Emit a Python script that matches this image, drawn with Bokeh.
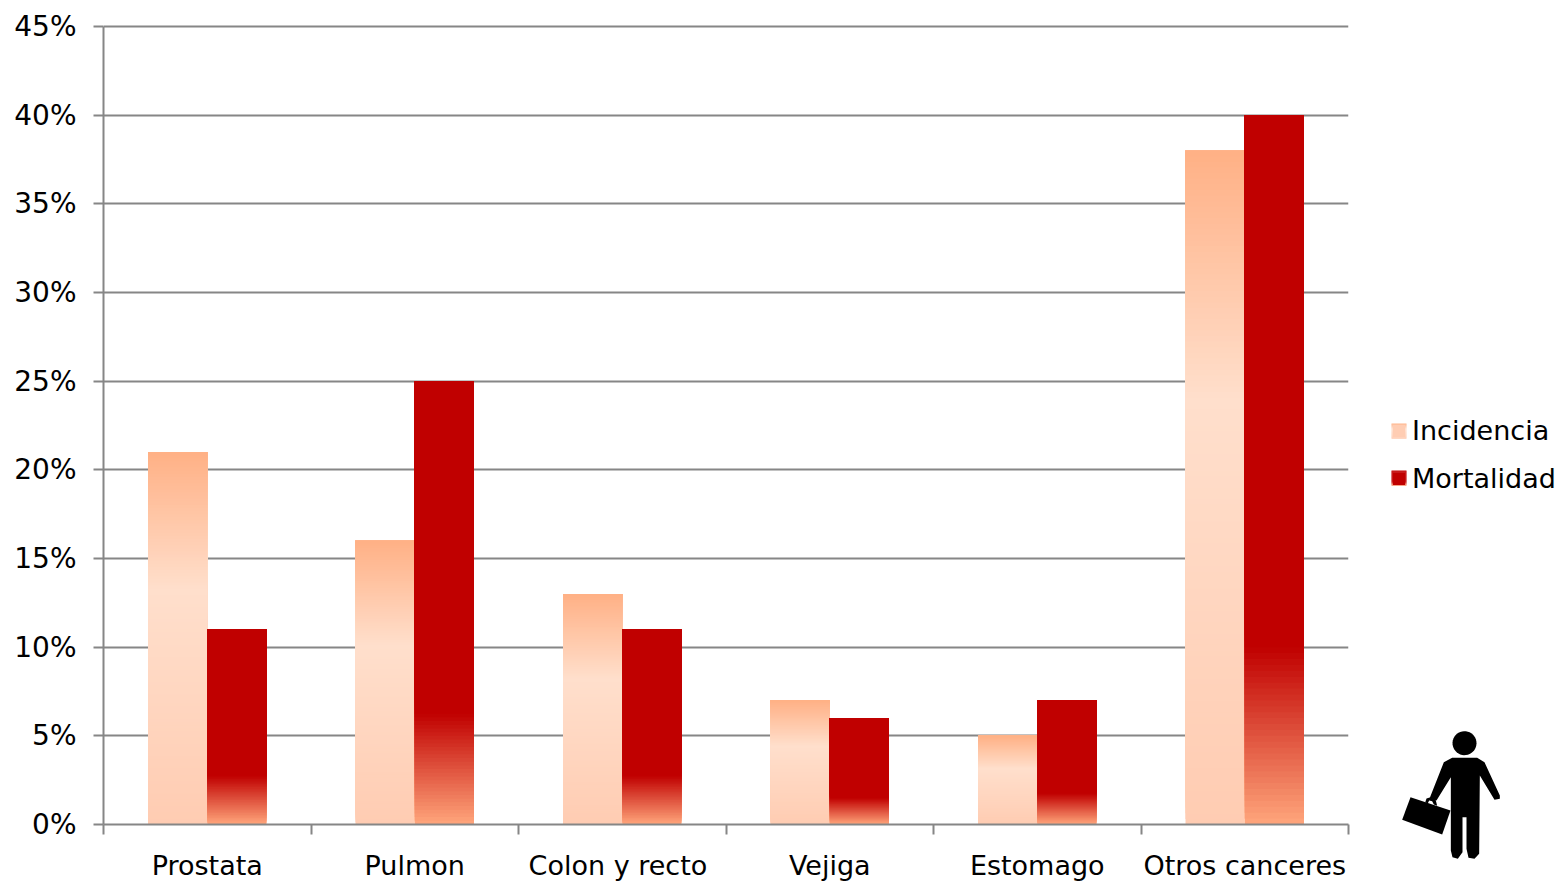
import numpy as np
from bokeh.plotting import figure
from bokeh.layouts import row, column
from bokeh.models import (ColumnDataSource, FixedTicker, Legend, LegendItem, Range1d)
from bokeh.embed import file_html
from bokeh.resources import INLINE

categories = ["Prostata", "Pulmon", "Colon y  recto", "Vejiga", "Estomago", "Otros canceres"]
incidencia = [21, 16, 13, 7, 5, 38]
mortalidad = [11, 25, 11, 6, 7, 40]
y_ticks = [0, 5, 10, 15, 20, 25, 30, 35, 40, 45]
series_names = ["Incidencia", "Mortalidad"]

FONT = "DejaVu Sans"
FS_X = "27px"
FS_Y = "28px"
GREY = "#868686"
BAR_W = 0.2855
N = 120

stops_inc = ([0.0, 0.63, 1.0], ["#FFCCB2", "#FFDFCC", "#FFB085"])
stops_mor = ([0.0, 0.25, 1.0], ["#FFA67C", "#C00000", "#C00000"])


def grad(stops, t):
    pos, cols = stops
    rgb = np.array([[int(c[i:i + 2], 16) for i in (1, 3, 5)] for c in cols], float)
    ch = [np.interp(t, pos, rgb[:, k]) for k in range(3)]
    return ["#%02x%02x%02x" % (int(round(r)), int(round(g)), int(round(b))) for r, g, b in zip(*ch)]


def slices(vals, offset, stops):
    L, R, B, T, C = [], [], [], [], []
    ts = np.arange(N) / N
    cols = grad(stops, (ts + 0.5 / N))
    for i, v in enumerate(vals):
        for t, c in zip(ts, cols):
            L.append(i + 0.5 + offset - BAR_W / 2)
            R.append(i + 0.5 + offset + BAR_W / 2)
            B.append(v * t)      # each slice reaches to the top; later ones paint over
            T.append(v)
            C.append(c)
    return ColumnDataSource(dict(left=L, right=R, bottom=B, top=T, color=C))


SPLIT = 1352
p = figure(width=SPLIT, height=884, output_backend="svg", toolbar_location=None,
           x_range=Range1d(0, 6), y_range=Range1d(0, 45.113),
           min_border_left=103, min_border_right=4, min_border_top=24, min_border_bottom=60)
p.outline_line_color = None
p.xgrid.grid_line_color = None
p.ygrid.ticker = FixedTicker(ticks=y_ticks)
p.ygrid.grid_line_color = GREY
p.ygrid.grid_line_width = 2

p.yaxis.ticker = FixedTicker(ticks=y_ticks)
p.yaxis.bounds = (0, 45)
p.yaxis.major_label_overrides = {v: f"{v}%" for v in y_ticks}
p.xaxis.ticker = FixedTicker(ticks=[i + 0.5 for i in range(6)], minor_ticks=list(range(7)))
p.xaxis.major_label_overrides = {i + 0.5: c for i, c in enumerate(categories)}
for ax, st, fs in ((p.xaxis, 15, FS_X), (p.yaxis, 17, FS_Y)):
    ax.axis_line_color = GREY
    ax.axis_line_width = 2
    ax.major_tick_line_color = GREY
    ax.major_tick_line_width = 2
    ax.minor_tick_line_color = GREY
    ax.minor_tick_line_width = 2
    ax.major_label_text_font = FONT
    ax.major_label_text_font_size = fs
    ax.major_label_text_color = "#000000"
    ax.major_label_standoff = st
p.yaxis.major_tick_in = 0
p.yaxis.major_tick_out = 10
p.yaxis.minor_tick_line_color = None
p.xaxis.major_tick_in = 0
p.xaxis.major_tick_out = 0
p.xaxis.minor_tick_in = 0
p.xaxis.minor_tick_out = 10

p.quad(left="left", right="right", bottom="bottom", top="top", fill_color="color",
       line_color=None, source=slices(incidencia, -BAR_W / 2, stops_inc))
p.quad(left="left", right="right", bottom="bottom", top="top", fill_color="color",
       line_color=None, source=slices(mortalidad, BAR_W / 2, stops_mor))

# Right-hand strip: legend and pictogram, its ranges follow the page's pixels
q = figure(width=1558 - SPLIT, height=884, output_backend="svg", toolbar_location=None,
           x_range=Range1d(SPLIT, 1558), y_range=Range1d(884, 0),
           x_axis_type=None, y_axis_type=None,
           min_border_left=0, min_border_right=0, min_border_top=0, min_border_bottom=0)
q.outline_line_color = None
q.grid.visible = False


def swatch(top, stops):
    hh = 15
    cols = grad(stops, 1 - (np.arange(hh) + 0.5) / hh)
    src = ColumnDataSource(dict(left=[1391] * hh, right=[1406] * hh,
                                top=[top + j for j in range(hh)],
                                bottom=[top + j + 1.3 for j in range(hh)], color=cols))
    return q.quad(left="left", right="right", top="top", bottom="bottom", fill_color="color",
                  line_color=None, source=src, level="overlay")


r1 = swatch(423, stops_inc)
r2 = swatch(470, stops_mor)
legend = Legend(items=[LegendItem(label=series_names[0], renderers=[r1], index=14),
                       LegendItem(label=series_names[1], renderers=[r2], index=0)],
                location=(1391 - SPLIT, 390), orientation="vertical", background_fill_alpha=0,
                border_line_color=None, padding=0, margin=0, spacing=17,
                glyph_width=15, glyph_height=15, label_standoff=6,
                label_text_font=FONT, label_text_font_size=FS_X, label_text_color="#000000")
q.add_layout(legend)


def icon(points):
    q.patch([1380 + a / 3 for a, b in points], [720 + b / 3 for a, b in points],
            fill_color="#000000", line_color=None)


th = np.linspace(0, 2 * np.pi, 40)
icon(list(zip(252 + 36 * np.cos(th), 68 + 36 * np.sin(th))))
icon([(215, 112), (290, 112), (312, 125), (358, 225), (358, 235), (342, 238), (298, 165),
      (296, 400), (282, 415), (264, 412), (258, 385), (258, 290), (246, 290), (246, 395),
      (232, 415), (216, 410), (211, 390), (211, 170), (168, 240), (148, 232), (190, 125)])
icon([(90, 230), (210, 270), (185, 342), (65, 298)])
icon([(134, 246), (138, 234), (150, 230), (165, 236), (170, 256), (160, 252), (155, 242), (146, 240), (142, 248)])

open("out.html", "w").write(file_html(row(column(p), column(q), spacing=0), INLINE))
